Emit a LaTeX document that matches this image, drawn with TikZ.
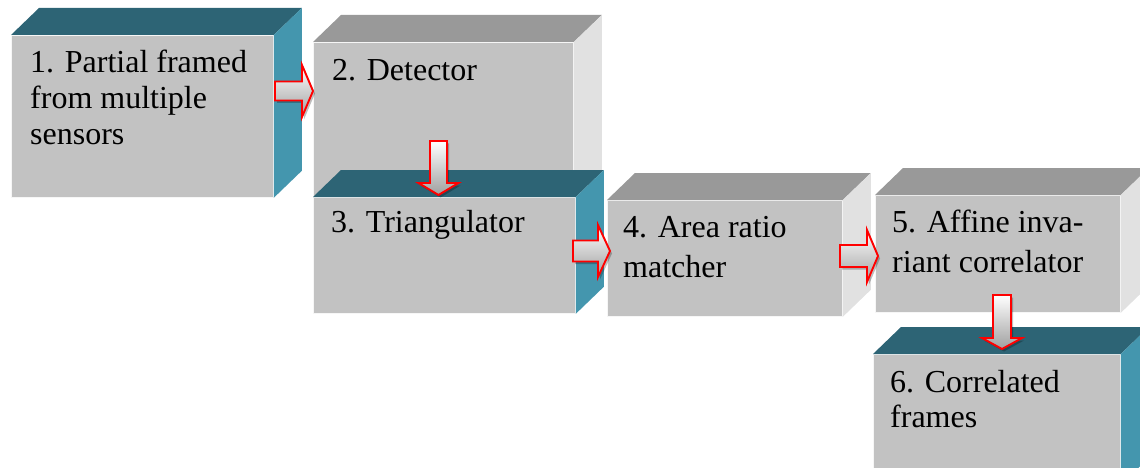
\documentclass[tikz,border=0pt]{standalone}
\usepackage{fontspec}
\setmainfont{Liberation Serif}
\usetikzlibrary{shadows,calc}
\definecolor{tealtop}{HTML}{2D6475}
\definecolor{tealside}{HTML}{4496AE}
\definecolor{greytop}{HTML}{999999}
\definecolor{greyside}{HTML}{E1E1E1}
\definecolor{frontgrey}{HTML}{C2C2C2}
\tikzset{
  front/.style={rectangle, fill=frontgrey, draw=white!85!frontgrey, line width=0.8pt, inner sep=0pt, anchor=north west},
  lbl/.style={font=\fontsize{32}{37}\selectfont, inner sep=0pt, anchor=base west},
  blk/.style={draw=red, line width=1.9pt, line join=miter, top color=white, bottom color=gray!75,
    drop shadow={shadow xshift=2pt, shadow yshift=-2.5pt, opacity=0.25, fill=black}},
}
% name, x, y, width, height, top colour, side colour
\newcommand\mycuboid[7]{%
  \node[front, minimum width=#4pt, minimum height=#5pt] (#1) at (#2,#3) {};
  \fill[#6] (#1.north west) -- ++(28,-27) -- ($(#1.north east)+(28,-27)$) -- (#1.north east) -- cycle;
  \fill[#7] (#1.north east) -- ++(28,-27) -- ($(#1.south east)+(28,-27)$) -- (#1.south east) -- cycle;
}
% right-pointing block arrow: name, tail x, tip x, centre y, half shaft, half head, head length
\newcommand\rightblock[7]{%
  \draw[blk] (#2,#4-#5) -- (#3-#7,#4-#5) -- (#3-#7,#4-#6) -- (#3,#4) coordinate (#1)
    -- (#3-#7,#4+#6) -- (#3-#7,#4+#5) -- (#2,#4+#5) -- cycle;
}
% down-pointing block arrow: name, centre x, tail y, tip y, half shaft, half head, head length
\newcommand\downblock[7]{%
  \draw[blk] (#2-#5,#3) -- (#2+#5,#3) -- (#2+#5,#4-#7) -- (#2+#6,#4-#7) -- (#2,#4) coordinate (#1)
    -- (#2-#6,#4-#7) -- (#2-#5,#4-#7) -- cycle;
}
% line spacing, lines
\newcommand\twolines[3]{\vtop{\baselineskip=#1pt\hbox{#2}\hbox{#3}}}
\newcommand\threelines[4]{\vtop{\baselineskip=#1pt\hbox{#2}\hbox{#3}\hbox{#4}}}
\begin{document}
\begin{tikzpicture}[x=1pt, y=-1pt]
\useasboundingbox (0,0) rectangle (1140,468);
\clip (0,0) rectangle (1140,468);
\mycuboid{b1}{11}{35}{262}{162}{tealtop}{tealside}
\node[lbl] (t1) at ($(b1.north west)+(19,38)$) {\threelines{36}{1. Partial framed}{from multiple}{sensors}};
\mycuboid{b2}{313}{42}{260}{155}{greytop}{greyside}
\node[lbl] (t2) at ($(b2.north west)+(19,39)$) {2. Detector};
\rightblock{a12}{275}{313}{91}{9.5}{26}{11}
\mycuboid{b3}{313}{197}{262}{116}{tealtop}{tealside}
\node[lbl] (t3) at ($(b3.north west)+(18,35)$) {3. Triangulator};
\downblock{a23}{438.5}{141}{195}{8.5}{20}{12}
\mycuboid{b4}{607}{200}{235}{116}{greytop}{greyside}
\node[lbl] (t4) at ($(b4.north west)+(16,37)$) {\twolines{40}{4. Area ratio}{matcher}};
\rightblock{a34}{573}{610}{251}{10.5}{26}{12}
\mycuboid{b5}{875}{195}{245}{117}{greytop}{greyside}
\node[lbl] (t5) at ($(b5.north west)+(17,37)$) {\twolines{40}{5. Affine inva-}{riant correlator}};
\rightblock{a45}{840}{878}{256}{11}{26}{11}
\mycuboid{b6}{873}{354}{247}{130}{tealtop}{tealside}
\node[lbl] (t6) at ($(b6.north west)+(17,38)$) {\twolines{35}{6. Correlated}{frames}};
\downblock{a56}{1002}{295}{349}{9}{20}{11}
\end{tikzpicture}
\end{document}
